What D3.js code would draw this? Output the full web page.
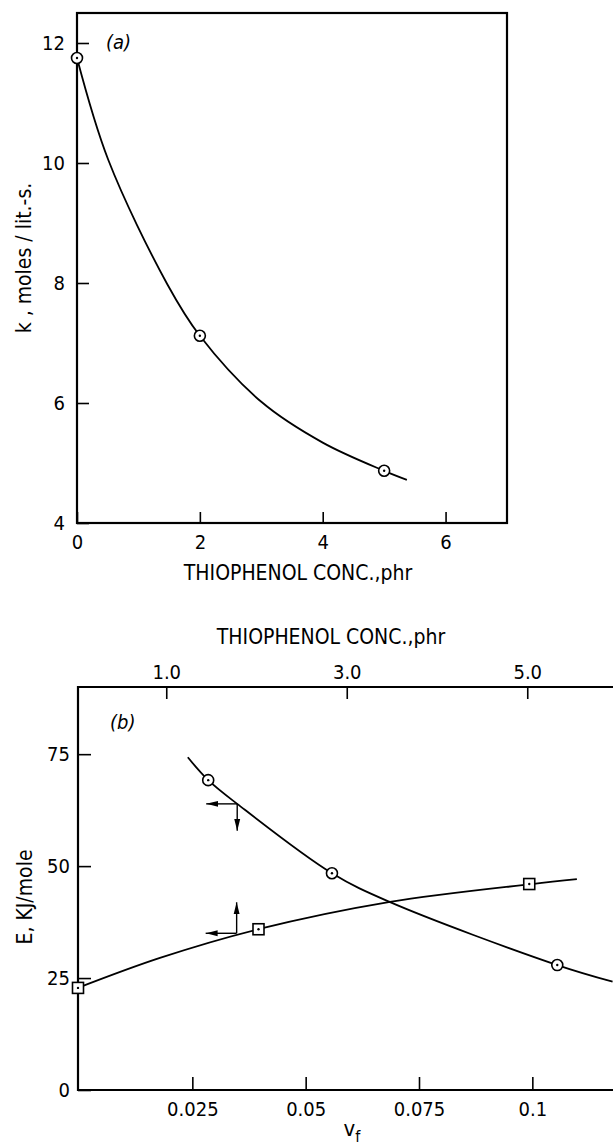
<!DOCTYPE html>
<html>
<head>
<meta charset="utf-8">
<script src="https://cdn.jsdelivr.net/npm/d3@7"></script>
<style>
  body { margin: 0; background: #fff; }
  svg text { font-family: "DejaVu Sans Condensed", "Liberation Sans Narrow", sans-serif; fill: #000; }
</style>
</head>
<body>
<div id="chart"></div>
<script>
// (a) rate constant vs thiophenol conc.
var phrA = [0, 2, 5];
var kA = [11.75, 7.12, 4.87];
// smooth curve drawn through the points
var fitA = [[0, 11.75], [0.51, 10.05], [1.47, 7.98], [2, 7.12], [3, 6.02], [4, 5.34], [5, 4.87], [5.37, 4.72]];
var xTicksA = [0, 2, 4, 6];
var yTicksA = [4, 6, 8, 10, 12];

// (b) activation energy: circles vs vf (bottom axis), squares vs phr (top axis)
var vfB = [0.0285, 0.0558, 0.1055];
var eCircle = [69.2, 48.4, 27.9];
var phrB = [0, 2, 5];
var eSquare = [22.8, 35.9, 46.0];
var fitCircle = [[0.024, 74.3], [0.0285, 69.2], [0.0349, 63.9], [0.0558, 48.4], [0.0685, 42], [0.1055, 27.9], [0.1177, 24.2]];
var fitSquare = [[0.02, 22.8], [0.93, 29.5], [2.02, 35.9], [3.48, 42], [5.05, 46], [5.55, 47.1]];
var vfTicks = [0.025, 0.05, 0.075, 0.1];
var vfLabels = ["0.025", "0.05", "0.075", "0.1"];
var phrTicksB = [1, 3, 5];
var eTicks = [0, 25, 50, 75];

var W = 613, H = 1148;
var svg = d3.select("#chart").append("svg")
    .attr("width", W)
    .attr("height", H);

var line = function(xs, ys) {
  return d3.line()
    .x(function(d) { return xs(d[0]); })
    .y(function(d) { return ys(d[1]); })
    .curve(d3.curveCatmullRom.alpha(0.5));
};

function dotCircle(g, cx, cy) {
  g.append("circle").attr("cx", cx).attr("cy", cy).attr("r", 5.5)
    .attr("fill", "#fff").attr("stroke", "#000").attr("stroke-width", 1.6);
  g.append("circle").attr("cx", cx).attr("cy", cy).attr("r", 1.2).attr("fill", "#000");
}
function dotSquare(g, cx, cy) {
  g.append("rect").attr("x", cx - 5.5).attr("y", cy - 5.5).attr("width", 11).attr("height", 11)
    .attr("fill", "#fff").attr("stroke", "#000").attr("stroke-width", 1.6);
  g.append("circle").attr("cx", cx).attr("cy", cy).attr("r", 1.2).attr("fill", "#000");
}

svg.append("defs").append("marker")
    .attr("id", "head")
    .attr("viewBox", "0 -4 12 8")
    .attr("refX", 12).attr("refY", 0)
    .attr("markerWidth", 12).attr("markerHeight", 8)
    .attr("markerUnits", "userSpaceOnUse")
    .attr("orient", "auto")
  .append("path").attr("d", "M0,-3L12,0L0,3Z").attr("fill", "#000");

function styleAxis(g) {
  g.select(".domain").remove();
  g.selectAll(".tick line").attr("stroke", "#000").attr("stroke-width", 1.6);
  g.selectAll(".tick text").style("font-size", "20px");
}

////////////////////////////// chart (a)
var xa = d3.scaleLinear().domain([0, 7]).range([77, 507]);
var ya = d3.scaleLinear().domain([4, 12.5]).range([523, 13]);
var ga = svg.append("g");

ga.append("g")
  .attr("transform", "translate(0," + ya(4) + ")")
  .call(d3.axisBottom(xa).tickValues(xTicksA).tickSize(-11).tickPadding(12).tickFormat(d3.format("d")))
  .call(styleAxis);
ga.append("g")
  .attr("transform", "translate(" + xa(0) + ",0)")
  .call(d3.axisLeft(ya).tickValues(yTicksA).tickSize(-12).tickPadding(12).tickFormat(d3.format("d")))
  .call(styleAxis);
ga.append("rect")
  .attr("x", xa(0)).attr("y", ya(12.5))
  .attr("width", xa(7) - xa(0)).attr("height", ya(4) - ya(12.5))
  .attr("fill", "none").attr("stroke", "#000").attr("stroke-width", 2.2);

ga.append("path").datum(fitA)
  .attr("d", line(xa, ya))
  .attr("fill", "none").attr("stroke", "#000").attr("stroke-width", 1.8);
phrA.forEach(function(p, i) { dotCircle(ga, xa(p), ya(kA[i])); });

ga.append("text").attr("x", 106).attr("y", 49)
  .style("font-size", "20px").style("font-style", "italic").text("(a)");
ga.append("text").attr("x", 298).attr("y", 580)
  .attr("text-anchor", "middle").style("font-size", "21px").text("THIOPHENOL CONC.,phr");
ga.append("text")
  .attr("transform", "translate(31,258) rotate(-90)")
  .attr("text-anchor", "middle").style("font-size", "21px").text("k , moles / lit.-s.");

////////////////////////////// chart (b)
var xv = d3.scaleLinear().domain([0, 0.12]).range([79, 623]);
var xp = d3.scaleLinear().domain([0, 6]).range([76, 617.5]);
var yb = d3.scaleLinear().domain([0, 90]).range([1090, 687]);
var gb = svg.append("g");

gb.append("g")
  .attr("transform", "translate(0," + yb(0) + ")")
  .call(d3.axisBottom(xv).tickValues(vfTicks).tickSize(-13).tickPadding(12)
    .tickFormat(function(d, i) { return vfLabels[i]; }))
  .call(styleAxis);
gb.append("g")
  .attr("transform", "translate(0," + yb(90) + ")")
  .call(d3.axisTop(xp).tickValues(phrTicksB).tickSize(-12).tickPadding(8).tickFormat(d3.format(".1f")))
  .call(styleAxis);
gb.append("g")
  .attr("transform", "translate(78,0)")
  .call(d3.axisLeft(yb).tickValues(eTicks).tickSize(-13).tickPadding(8).tickFormat(d3.format("d")))
  .call(styleAxis);

// frame lines (right side runs off the page)
gb.append("path")
  .attr("d", "M" + W + "," + yb(90) + "H78V" + yb(0) + "H" + W)
  .attr("fill", "none").attr("stroke", "#000").attr("stroke-width", 2.2);

gb.append("path").datum(fitCircle)
  .attr("d", line(xv, yb))
  .attr("fill", "none").attr("stroke", "#000").attr("stroke-width", 1.8);
gb.append("path").datum(fitSquare)
  .attr("d", line(xp, yb))
  .attr("fill", "none").attr("stroke", "#000").attr("stroke-width", 1.8);
vfB.forEach(function(v, i) { dotCircle(gb, xv(v), yb(eCircle[i])); });
phrB.forEach(function(p, i) { dotSquare(gb, xp(p) + 2, yb(eSquare[i])); });

// axis-pointer arrows
function pointer(x0, y0, dy) {
  gb.append("line").attr("x1", x0).attr("y1", y0).attr("x2", x0 - 31).attr("y2", y0)
    .attr("stroke", "#000").attr("stroke-width", 1.4).attr("marker-end", "url(#head)");
  gb.append("line").attr("x1", x0).attr("y1", y0).attr("x2", x0).attr("y2", y0 + dy)
    .attr("stroke", "#000").attr("stroke-width", 1.4).attr("marker-end", "url(#head)");
}
pointer(xv(0.0349), yb(63.9), 27);
pointer(xp(1.78), yb(35), -31);

gb.append("text").attr("x", 110).attr("y", 729)
  .style("font-size", "20px").style("font-style", "italic").text("(b)");
gb.append("text").attr("x", 331).attr("y", 644)
  .attr("text-anchor", "middle").style("font-size", "21px").text("THIOPHENOL CONC.,phr");
var vlab = gb.append("text").attr("x", 352).attr("y", 1136)
  .attr("text-anchor", "middle").style("font-size", "22px");
vlab.append("tspan").text("v");
vlab.append("tspan").attr("dy", 6).style("font-size", "16px").text("f");
gb.append("text")
  .attr("transform", "translate(32,897) rotate(-90)")
  .attr("text-anchor", "middle").style("font-size", "21px").text("E, KJ/mole");
</script>
</body>
</html>
